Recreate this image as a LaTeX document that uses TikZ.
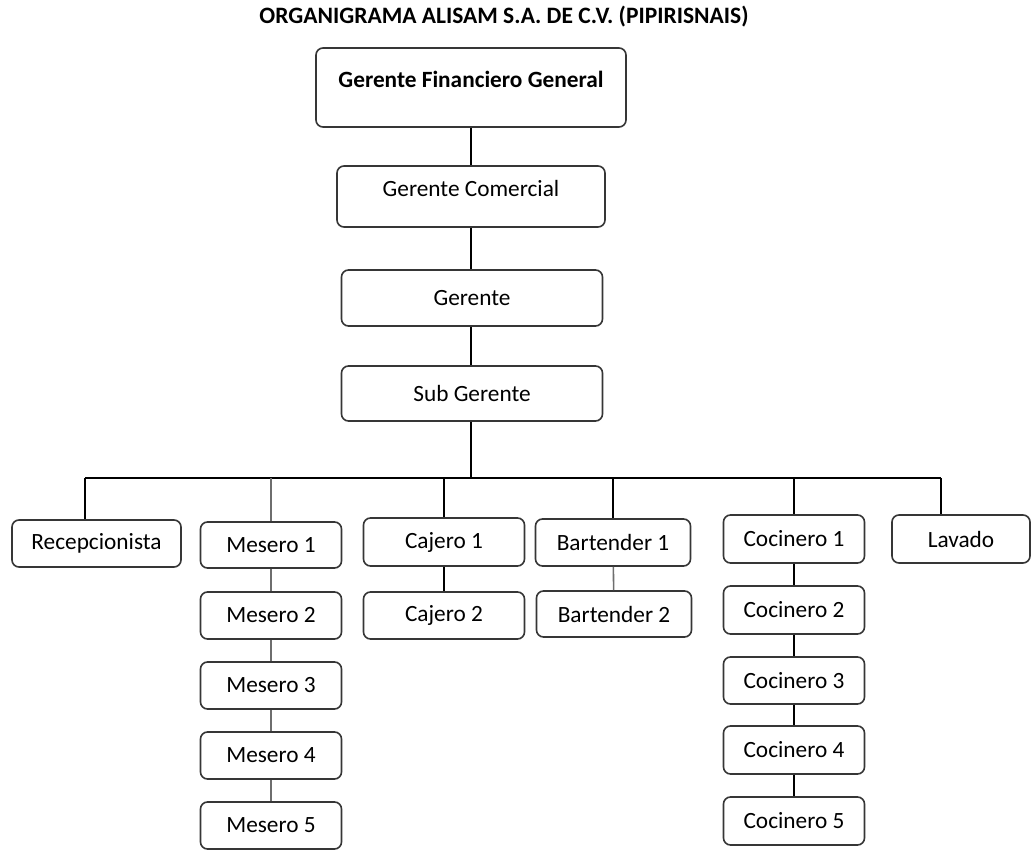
\documentclass[tikz,border=0pt]{standalone}
\usepackage{fontspec}
\setmainfont{Carlito}
\definecolor{bordegris}{HTML}{363636}
\definecolor{lineagris}{HTML}{6E6E6E}

\begin{document}
\begin{tikzpicture}[x=1pt, y=-1pt,
    cargo/.style={draw=bordegris, line width=1.6pt, rounded corners=7pt, fill=white,
      font=\fontsize{23.3}{27}\selectfont, inner sep=0pt, minimum width=141pt, minimum height=47pt},
    arriba/.style={text height=10pt, text depth=10pt},
    linea/.style={line width=1.6pt, draw=black},
    lineagr/.style={line width=1.6pt, draw=lineagris}]
  \useasboundingbox (0,0) rectangle (1031,850);
  % Titulo
  \node[font=\fontsize{23.5}{27}\selectfont\bfseries] (titulo) at (504,17) {ORGANIGRAMA ALISAM S.A. DE C.V. (PIPIRISNAIS)};
  % Direccion
  \node[cargo, arriba, font=\fontsize{23.3}{27}\selectfont\bfseries, minimum width=310pt, minimum height=79pt] (gfg) at (471,87.5) {Gerente Financiero General};
  \node[cargo, arriba, minimum width=268pt, minimum height=61pt] (gcom) at (471,196.5) {Gerente Comercial};
  \node[cargo, minimum width=261pt, minimum height=56pt] (ger) at (472,298) {Gerente};
  \node[cargo, minimum width=261pt, minimum height=55pt] (subger) at (472,393.5) {Sub Gerente};
  \draw[linea] (gfg) -- (gcom);
  \draw[linea] (gcom.south -| gfg) -- (ger.north -| gfg);
  \draw[linea] (ger.south -| gfg) -- (subger.north -| gfg);
  % Barra de areas
  \coordinate (b1) at (85,478);
  \coordinate (b2) at (271,478);
  \coordinate (b3) at (444,478);
  \coordinate (b4) at (613,478);
  \coordinate (b5) at (794,478);
  \coordinate (b6) at (941,478);
  \draw[linea] (b1) -- (b6);
  \draw[linea] (subger.south -| gfg) -- (gfg |- b1);
  % Recepcion
  \node[cargo, minimum width=169pt] (recep) at (96.5,543.5) {Recepcionista};
  % Meseros
  \node[cargo, minimum height=46pt] (mes1) at (271,545) {Mesero 1};
  \node[cargo] (mes2) at (271,615.5) {Mesero 2};
  \node[cargo] (mes3) at (271,685.5) {Mesero 3};
  \node[cargo] (mes4) at (271,755.5) {Mesero 4};
  \node[cargo] (mes5) at (271,825.5) {Mesero 5};
  % Caja
  \node[cargo, minimum width=161pt, minimum height=48pt] (caj1) at (444,542) {Cajero 1};
  \node[cargo, minimum width=161pt] (caj2) at (444,615.5) {Cajero 2};
  % Barra
  \node[cargo, minimum width=155pt] (bar1) at (613,542.5) {Bartender 1};
  \node[cargo, minimum width=155pt, minimum height=46pt] (bar2) at (614,614) {Bartender 2};
  % Cocina
  \node[cargo, minimum height=48pt] (coc1) at (794,539) {Cocinero 1};
  \node[cargo, minimum height=48pt] (coc2) at (794,610) {Cocinero 2};
  \node[cargo] (coc3) at (794,680.5) {Cocinero 3};
  \node[cargo, minimum height=48pt] (coc4) at (794,750) {Cocinero 4};
  \node[cargo, minimum height=48pt] (coc5) at (794,821) {Cocinero 5};
  % Lavado
  \node[cargo, minimum width=138pt, minimum height=48pt] (lav) at (961,539) {Lavado};
  % Bajadas
  \draw[linea] (b1) -- (b1 |- recep.north);
  \draw[lineagr] (b2) -- (mes1);
  \draw[linea] (b3) -- (caj1);
  \draw[linea] (b4) -- (bar1);
  \draw[linea] (b5) -- (coc1);
  \draw[linea] (b6) -- (b6 |- lav.north);
  % Cadenas
  \draw[lineagr] (mes1) -- (mes2);
  \draw[lineagr] (mes2) -- (mes3);
  \draw[lineagr] (mes3) -- (mes4);
  \draw[lineagr] (mes4) -- (mes5);
  \draw[linea] (caj1) -- (caj2);
  \draw[lineagr] (bar1) -- (bar2);
  \draw[linea] (coc1) -- (coc2);
  \draw[linea] (coc2) -- (coc3);
  \draw[linea] (coc3) -- (coc4);
  \draw[linea] (coc4) -- (coc5);
\end{tikzpicture}
\end{document}
